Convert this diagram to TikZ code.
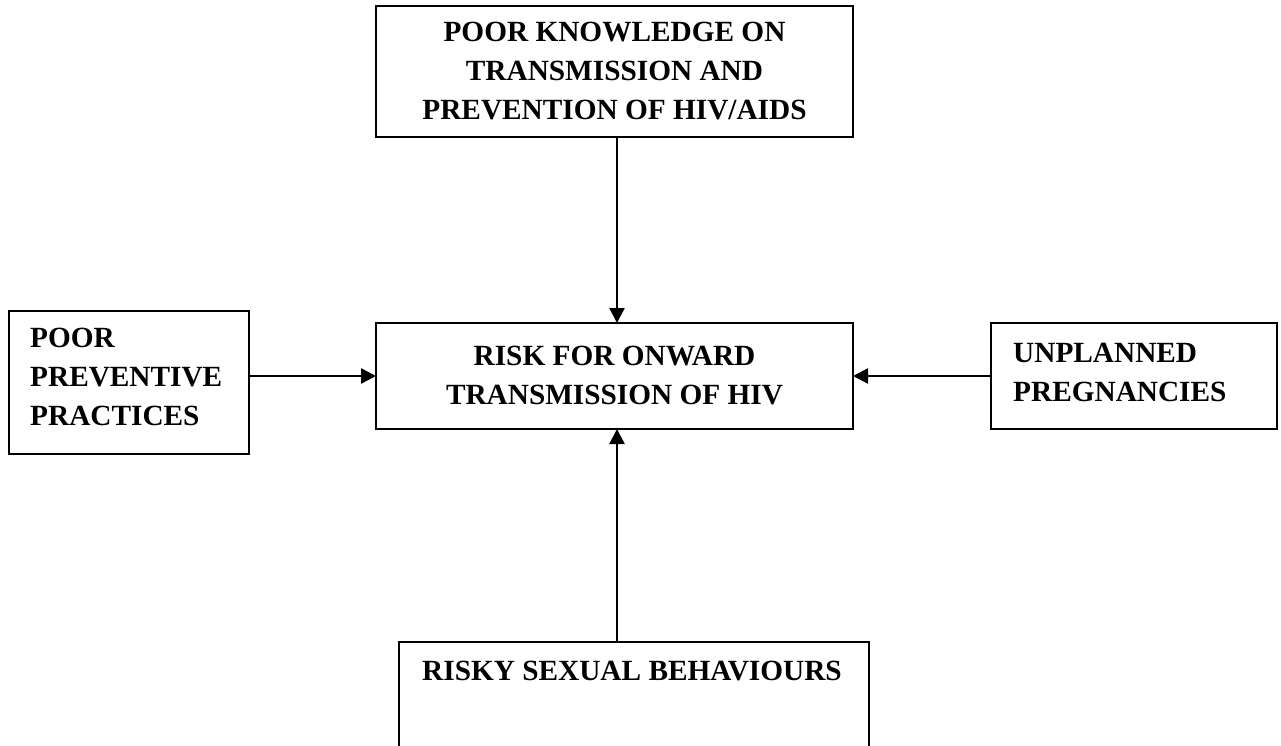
\documentclass[tikz,border=0pt]{standalone}
\usepackage{fontspec}
\setmainfont{Liberation Serif}
\usetikzlibrary{arrows.meta}
\begin{document}
\begin{tikzpicture}[x=1pt,y=-1pt,
  box/.style={draw, line width=1.7pt, inner sep=0pt, outer sep=0pt},
  lbl/.style={font=\fontsize{29.3}{39}\selectfont\bfseries, inner sep=0pt},
  conn/.style={line width=2.4pt, -{Triangle[length=15pt,width=15pt]}}]
\useasboundingbox (0,0) rectangle (1281,746);
\clip (0,0) rectangle (1281,746);
% boxes
\node[box, minimum width=477pt, minimum height=131pt] (know) at (614.5,71.5) {};
\node[box, minimum width=477pt, minimum height=106pt] (risk) at (614.5,376) {};
\node[box, minimum width=240pt, minimum height=143pt] (prev) at (129,382.5) {};
\node[box, minimum width=286pt, minimum height=106pt] (preg) at (1134,376) {};
\node[box, minimum width=470pt, minimum height=128pt] (sex) at (634,706) {};
% texts
\node[lbl, align=center] (knowt) at (know) {POOR KNOWLEDGE ON\\TRANSMISSION AND\\PREVENTION OF HIV/AIDS};
\node[lbl, align=center] (riskt) at (risk) {RISK FOR ONWARD\\TRANSMISSION OF HIV};
\node[lbl, align=left, anchor=north west] (prevt) at (30,328) {POOR\\PREVENTIVE\\PRACTICES};
\node[lbl, align=left, anchor=north west] (pregt) at (1013,343) {UNPLANNED\\PREGNANCIES};
\node[lbl, anchor=north] (sext) at (632,661) {RISKY SEXUAL BEHAVIOURS};
% connectors
\draw[conn] (know.south -| 617,0) -- (risk.north -| 617,0);
\draw[conn] (sex.north -| 617,0) -- (risk.south -| 617,0);
\draw[conn] (prev.east |- risk.west) -- (risk.west);
\draw[conn] (preg.west |- risk.east) -- (risk.east);
\end{tikzpicture}
\end{document}
